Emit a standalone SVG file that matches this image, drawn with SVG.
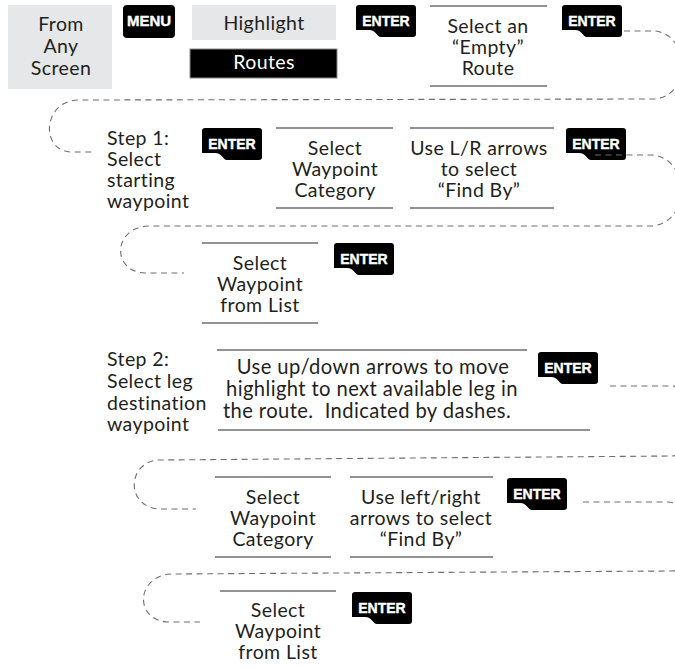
<svg xmlns="http://www.w3.org/2000/svg" xmlns:xlink="http://www.w3.org/1999/xlink" width="675" height="667" viewBox="0 0 675 667">
  <style>
    .t { font-family: Lato, "Open Sans", "Noto Sans", sans-serif; font-size: 19.5px; letter-spacing: 0.4px; fill: #231f20; }
    .c { text-anchor: middle; }
    .wide { font-size: 20.2px; }
    .key { fill: #000; }
    .kt { font-family: "Liberation Sans", Arial, sans-serif; font-weight: bold; font-size: 14px; fill: #fff; text-anchor: middle; stroke: #fff; stroke-width: 0.4; }
    .rule { stroke: #6d6e71; stroke-width: 1.5; fill: none; }
    .shade { fill: #e6e7e8; }
    .flow { fill: none; stroke: #6d6e71; stroke-width: 1.1; stroke-dasharray: 6 4.5; }
  </style>
  <defs>
    <!-- ENTER keycap: rounded top, notch swept out of the lower-left corner -->
    <path id="enterKey" d="M0 3 Q0 0 3 0 H57 Q60 0 60 3 V29 Q60 32 57 32 H25 C21 32 20 25 13 25 H0 Z"/>
  </defs>

  <!-- Row 1 -->
  <g id="from-any-screen">
    <rect class="shade" x="8" y="5" width="104" height="84"/>
    <text class="t c" x="61" y="31">From</text>
    <text class="t c" x="61" y="53">Any</text>
    <text class="t c" x="61" y="75">Screen</text>
  </g>
  <g id="menu-key">
    <rect class="key" x="123" y="5" width="52" height="33" rx="4"/>
    <text class="kt" x="149" y="26" style="font-size:15px">MENU</text>
  </g>
  <g id="highlight">
    <rect class="shade" x="192" y="5" width="144" height="35"/>
    <text class="t c" x="264" y="30">Highlight</text>
  </g>
  <g id="routes">
    <rect x="190" y="49" width="147" height="29" fill="#000" stroke="#888" stroke-width="1"/>
    <text class="t c" x="264" y="69" style="fill:#fff">Routes</text>
  </g>
  <g id="enter-1">
    <use href="#enterKey" class="key" x="356" y="5"/>
    <text class="kt" x="386" y="26">ENTER</text>
  </g>
  <g id="select-empty-route">
    <line class="rule" x1="430" y1="6" x2="547" y2="6"/>
    <line class="rule" x1="430" y1="86" x2="547" y2="86"/>
    <text class="t c" x="488" y="33">Select an</text>
    <text class="t c" x="488" y="54">“Empty”</text>
    <text class="t c" x="488" y="75">Route</text>
  </g>
  <g id="enter-2">
    <use href="#enterKey" class="key" x="562" y="5"/>
    <text class="kt" x="592" y="26">ENTER</text>
  </g>

  <!-- Row 2 -->
  <g id="step-1">
    <text class="t" x="107" y="145">Step 1:</text>
    <text class="t" x="107" y="166">Select</text>
    <text class="t" x="107" y="187">starting</text>
    <text class="t" x="107" y="208">waypoint</text>
  </g>
  <g id="enter-3">
    <use href="#enterKey" class="key" x="202" y="128"/>
    <text class="kt" x="232" y="149">ENTER</text>
  </g>
  <g id="select-category-1">
    <line class="rule" x1="276" y1="128" x2="393" y2="128"/>
    <line class="rule" x1="276" y1="208" x2="393" y2="208"/>
    <text class="t c" x="335" y="155">Select</text>
    <text class="t c" x="335" y="176">Waypoint</text>
    <text class="t c" x="335" y="197">Category</text>
  </g>
  <g id="find-by-1">
    <line class="rule" x1="410" y1="128" x2="554" y2="128"/>
    <line class="rule" x1="410" y1="208" x2="554" y2="208"/>
    <text class="t c" x="479" y="155">Use L/R arrows</text>
    <text class="t c" x="479" y="176">to select</text>
    <text class="t c" x="479" y="197">“Find By”</text>
  </g>
  <g id="enter-4">
    <use href="#enterKey" class="key" x="566" y="128"/>
    <text class="kt" x="596" y="149">ENTER</text>
  </g>

  <!-- Row 3 -->
  <g id="select-from-list-1">
    <line class="rule" x1="202" y1="243" x2="318" y2="243"/>
    <line class="rule" x1="202" y1="323" x2="318" y2="323"/>
    <text class="t c" x="260" y="270">Select</text>
    <text class="t c" x="260" y="291">Waypoint</text>
    <text class="t c" x="260" y="312">from List</text>
  </g>
  <g id="enter-5">
    <use href="#enterKey" class="key" x="334" y="243"/>
    <text class="kt" x="364" y="264">ENTER</text>
  </g>

  <!-- Row 4 -->
  <g id="step-2">
    <text class="t" x="107" y="366">Step 2:</text>
    <text class="t" x="107" y="388">Select leg</text>
    <text class="t" x="107" y="410">destination</text>
    <text class="t" x="107" y="431">waypoint</text>
  </g>
  <g id="next-leg">
    <line class="rule" x1="217" y1="350" x2="527" y2="350"/>
    <line class="rule" x1="218" y1="430" x2="590" y2="430"/>
    <text class="t c wide" x="373" y="374">Use up/down arrows to move</text>
    <text class="t c wide" x="372" y="396">highlight to next available leg in</text>
    <text class="t c wide" x="367" y="418">the route.&#160; Indicated by dashes.</text>
  </g>
  <g id="enter-6">
    <use href="#enterKey" class="key" x="538" y="352"/>
    <text class="kt" x="568" y="373">ENTER</text>
  </g>

  <!-- Row 5 -->
  <g id="select-category-2">
    <line class="rule" x1="215" y1="477" x2="331" y2="477"/>
    <line class="rule" x1="215" y1="557" x2="331" y2="557"/>
    <text class="t c" x="273" y="504">Select</text>
    <text class="t c" x="273" y="525">Waypoint</text>
    <text class="t c" x="273" y="546">Category</text>
  </g>
  <g id="find-by-2">
    <line class="rule" x1="350" y1="477" x2="493" y2="477"/>
    <line class="rule" x1="350" y1="557" x2="493" y2="557"/>
    <text class="t c" x="421" y="504">Use left/right</text>
    <text class="t c" x="421" y="525">arrows to select</text>
    <text class="t c" x="421" y="546">“Find By”</text>
  </g>
  <g id="enter-7">
    <use href="#enterKey" class="key" x="507" y="478"/>
    <text class="kt" x="537" y="499">ENTER</text>
  </g>

  <!-- Row 6 -->
  <g id="select-from-list-2">
    <line class="rule" x1="220" y1="591" x2="336" y2="591"/>
    <text class="t c" x="278" y="617">Select</text>
    <text class="t c" x="278" y="638">Waypoint</text>
    <text class="t c" x="278" y="659">from List</text>
  </g>
  <g id="enter-8">
    <use href="#enterKey" class="key" x="352" y="592"/>
    <text class="kt" x="382" y="613">ENTER</text>
  </g>

  <!-- Dashed flow lines wrapping from one row to the next -->
  <g id="connectors">
    <path class="flow" d="M624 31 L655 31 C690 35 692 95 655 99 L78 100 C42 101 40 152 72 152 L92 152"/>
    <path class="flow" d="M595 155 L652 155 C690 158 692 222 652 226 L148 226 C112 228 112 272 145 273 L184 273"/>
    <path class="flow" d="M610 386 L672 386 C712 389 712 452 672 456 L158 460 C126 463 126 508 160 509 L196 509"/>
    <path class="flow" d="M583 502 L668 502 C706 505 706 568 672 571 L170 574 C136 577 134 620 168 622 L200 622"/>
  </g>
</svg>
